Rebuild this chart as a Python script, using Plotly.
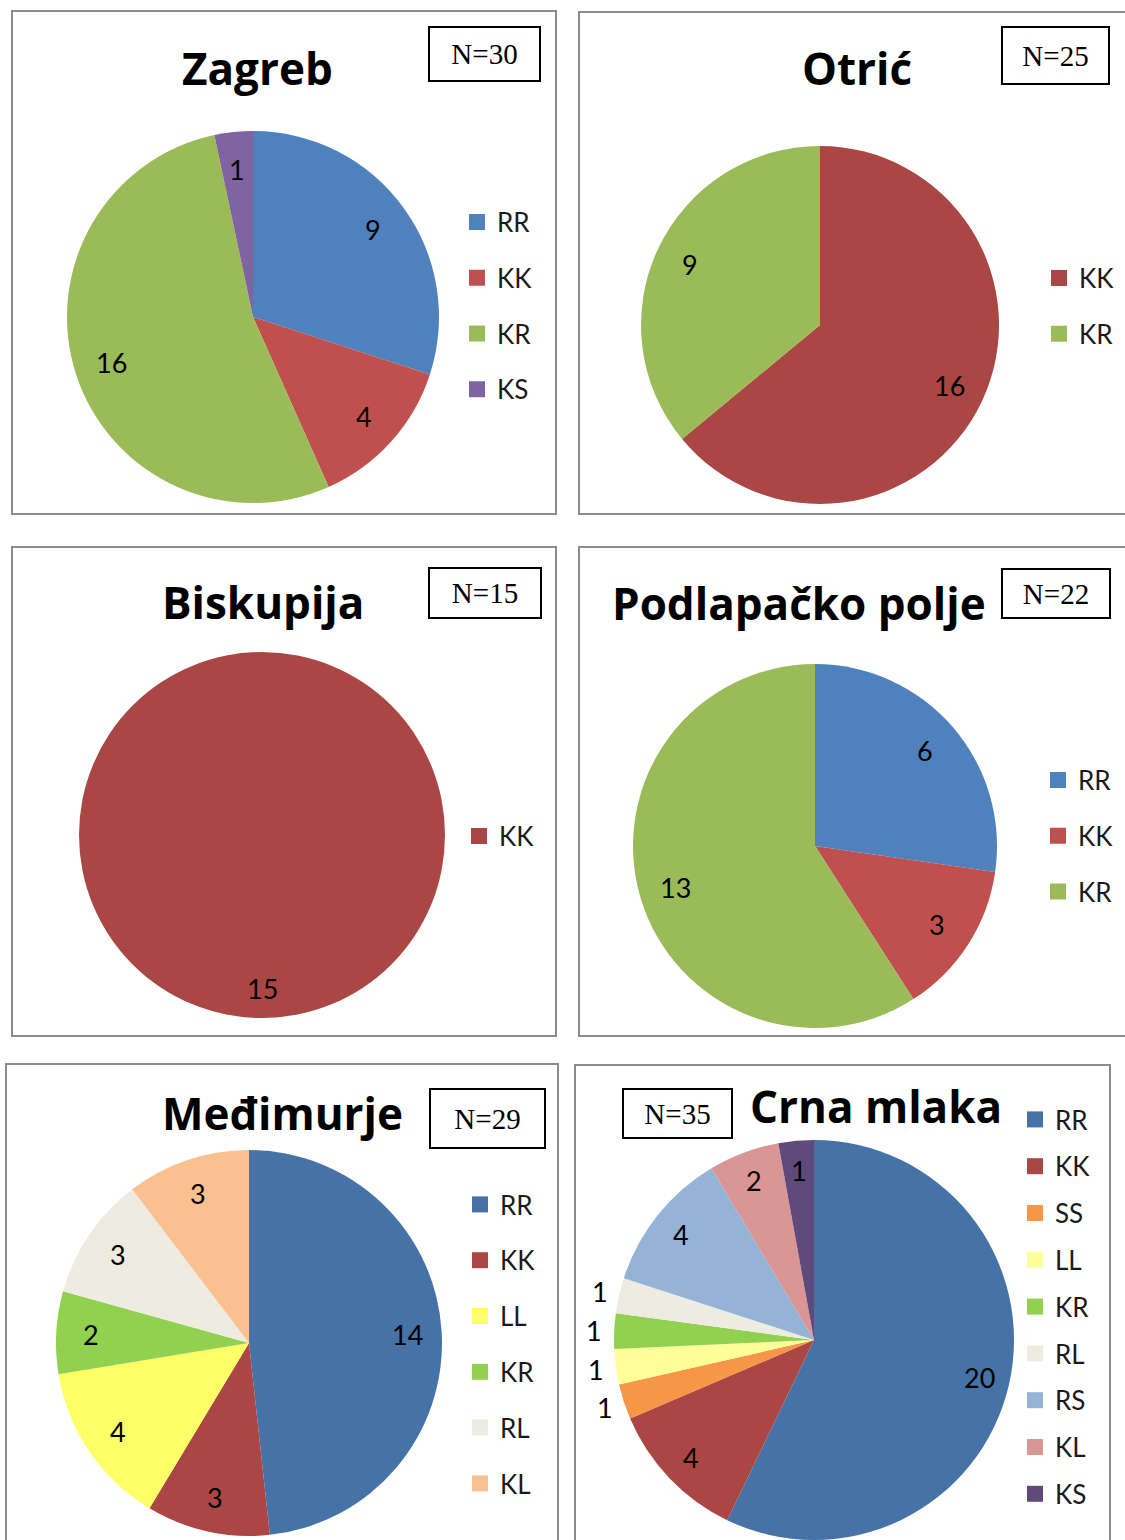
import math
import plotly.graph_objects as go

W, H = 1125, 1540

# ---- data ----
zagreb_labels = ["RR", "KK", "KR", "KS"]
zagreb_values = [9, 4, 16, 1]
zagreb_colors = ["#4F81BD", "#C0504D", "#9BBB59", "#8064A2"]

otric_labels = ["KK", "KR"]
otric_values = [16, 9]
otric_colors = ["#AA4643", "#9BBB59"]

biskupija_labels = ["KK"]
biskupija_values = [15]
biskupija_colors = ["#AA4643"]

podlapac_labels = ["RR", "KK", "KR"]
podlapac_values = [6, 3, 13]
podlapac_colors = ["#4F81BD", "#C0504D", "#9BBB59"]

medimurje_labels = ["RR", "KK", "LL", "KR", "RL", "KL"]
medimurje_values = [14, 3, 4, 2, 3, 3]
medimurje_colors = ["#4572A7", "#AA4643", "#FFFF66", "#92D050", "#EEECE1", "#FAC090"]

crna_labels = ["RR", "KK", "SS", "LL", "KR", "RL", "RS", "KL", "KS"]
crna_values = [20, 4, 1, 1, 1, 1, 4, 2, 1]
crna_colors = ["#4572A7", "#AA4643", "#F79646", "#FFFF99", "#92D050",
               "#EEECE1", "#95B3D7", "#D99694", "#604A7B"]
crna_textpos = ["inside", "inside", "outside", "outside", "outside",
                "outside", "inside", "inside", "inside"]

titles = ["Zagreb", "Otrić", "Biskupija", "Podlapačko polje", "Međimurje", "Crna mlaka"]
n_texts = ["N=30", "N=25", "N=15", "N=22", "N=29", "N=35"]

# ---- layout geometry (pixels) ----
panels = [
    dict(labels=zagreb_labels, values=zagreb_values, colors=zagreb_colors,
         border=(12, 11, 556, 514), pie=(253, 317, 186), title=(257, 68),
         nbox=(428, 26, 541, 82), legend=(477, 306), gap=19, lab_r=0.8),
    dict(labels=otric_labels, values=otric_values, colors=otric_colors,
         border=(579, 12, 1135, 514), pie=(820, 325, 179), title=(857, 68),
         nbox=(1001, 26, 1110, 85), legend=(1059, 306), gap=19, lab_r=0.8),
    dict(labels=biskupija_labels, values=biskupija_values, colors=biskupija_colors,
         border=(12, 547, 556, 1036), pie=(262, 835, 183), title=(263, 602),
         nbox=(428, 567, 542, 619), legend=(479, 836), gap=19, lab_r=0.84),
    dict(labels=podlapac_labels, values=podlapac_values, colors=podlapac_colors,
         border=(579, 547, 1135, 1036), pie=(815, 846, 182), title=(799, 603),
         nbox=(1001, 568, 1111, 619), legend=(1058, 836), gap=19, lab_r=0.8),
    dict(labels=medimurje_labels, values=medimurje_values, colors=medimurje_colors,
         border=(6, 1064, 558, 1550), pie=(249, 1343, 193), title=(282, 1113),
         nbox=(429, 1088, 546, 1149), legend=(480, 1344), gap=19, lab_r=0.82),
    dict(labels=crna_labels, values=crna_values, colors=crna_colors,
         border=(575, 1065, 1110, 1550), pie=(814, 1340, 200), title=(876, 1106),
         nbox=(622, 1088, 733, 1139), legend=(1035, 1307), gap=10, lab_r=0.85,
         textpos=crna_textpos),
]


def fx(x):
    return x / W


def fy(y):
    return 1 - y / H


fig = go.Figure()
layout_extra = {}
annotations = []
shapes = []

for k, p in enumerate(panels):
    leg = "legend" if k == 0 else "legend%d" % (k + 1)
    cx, cy, r = p["pie"]

    fig.add_trace(go.Pie(
        labels=p["labels"],
        values=p["values"],
        marker=dict(colors=p["colors"], line=dict(width=0)),
        sort=False,
        direction="clockwise",
        rotation=0,
        textinfo="none",
        domain=dict(x=[fx(cx - r), fx(cx + r)], y=[fy(cy + r), fy(cy - r)]),
        showlegend=False,
        hoverinfo="label+value"))

    # data labels, placed along each slice bisector like Excel's best fit
    total = sum(p["values"])
    cum = 0
    textpos = p.get("textpos", ["inside"] * len(p["values"]))
    for v, pos in zip(p["values"], textpos):
        mid = (cum + v / 2) / total * 2 * math.pi
        cum += v
        f = p["lab_r"] if pos == "inside" else 1.1
        annotations.append(dict(x=fx(cx + f * r * math.sin(mid)),
                                y=fy(cy - f * r * math.cos(mid)),
                                xref="paper", yref="paper", text=str(v),
                                showarrow=False, xanchor="center", yanchor="middle",
                                font=dict(family="Lato", size=27, color="black")))

    # legend entries (square markers)
    for lab, col in zip(p["labels"], p["colors"]):
        fig.add_trace(go.Scatter(x=[None], y=[None], mode="markers",
                                 marker=dict(symbol="square", size=16, color=col),
                                 name=lab, legend=leg,
                                 legendgroup="%d-%s" % (k, lab),
                                 showlegend=True, hoverinfo="skip"))

    lx, ly = p["legend"]
    layout_extra[leg] = dict(x=fx(lx - 20), y=fy(ly), xanchor="left", yanchor="middle",
                             traceorder="grouped", tracegroupgap=p["gap"],
                             bgcolor="rgba(0,0,0,0)",
                             font=dict(family="Lato", size=26, color="#1a1a1a"),
                             itemclick=False, itemdoubleclick=False)

    # panel border
    x0, y0, x1, y1 = p["border"]
    shapes.append(dict(type="rect", xref="paper", yref="paper",
                       x0=fx(x0), x1=fx(x1), y0=fy(y1), y1=fy(y0),
                       line=dict(color="#8C8C8C", width=2)))

    # title
    tx, ty = p["title"]
    annotations.append(dict(x=fx(tx), y=fy(ty), xref="paper", yref="paper",
                            text="<b>%s</b>" % titles[k], showarrow=False,
                            xanchor="center", yanchor="middle",
                            font=dict(family="Open Sans", size=44, color="black")))

    # N= box
    bx0, by0, bx1, by1 = p["nbox"]
    annotations.append(dict(x=fx((bx0 + bx1) / 2), y=fy((by0 + by1) / 2),
                            xref="paper", yref="paper", text=n_texts[k],
                            showarrow=False, xanchor="center", yanchor="middle",
                            width=bx1 - bx0 - 4, height=by1 - by0 - 4,
                            bordercolor="black", borderwidth=2, borderpad=0,
                            font=dict(family="Liberation Serif", size=29, color="black")))

fig.update_layout(width=W, height=H,
                  margin=dict(l=0, r=0, t=0, b=0),
                  paper_bgcolor="white",
                  plot_bgcolor="white",
                  xaxis=dict(visible=False),
                  yaxis=dict(visible=False),
                  annotations=annotations,
                  shapes=shapes,
                  **layout_extra)

# drop the default 8px page margin so the figure sits at the window origin
fig.write_html("out.html", config={"displayModeBar": False},
               post_script="document.body.style.margin='0';")
